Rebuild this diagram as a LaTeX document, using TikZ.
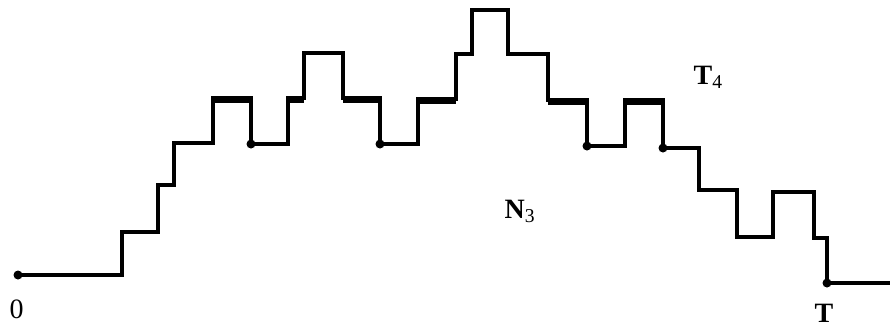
\documentclass[tikz,border=0pt]{standalone}
\usepackage{fontspec}
\setmainfont{Liberation Serif}
\tikzset{lbl/.style={inner sep=0pt,font=\fontsize{14}{16}\selectfont},
  pathdot/.style={fill=black},
  heavy/.style={line width=3.4pt}}
\begin{document}
\begin{tikzpicture}[x=0.5pt,y=-0.5pt,line width=1.6pt]
\useasboundingbox (0,0) rectangle (890,328);
% lattice path from 0 to T
\draw (18,275)--(122,275)--(122,232)--(158,232)--(158,185)--(174,185)--(174,143)--(213,143)--(213,98)--(251,98)--(251,144)
 --(288,144)--(288,98)--(304,98)--(304,53)--(343,53)--(343,98)--(380,98)--(380,144)--(418,144)--(418,99)--(456,99)
 --(456,54)--(472,54)--(472,10)--(508,10)--(508,54)--(548,54)--(548,100)--(587,100)--(587,146)--(625,146)--(625,100)
 --(663,100)--(663,148)--(699,148)--(699,190)--(737,190)--(737,237)--(773,237)--(773,192)--(814,192)--(814,238)
 --(827,238)--(827,283)--(890,283);
% heavy pieces on level four
\draw[heavy] (213,100)--(251,100) (288,100)--(304,100) (343,100)--(380,100) (418,101)--(456,101)
 (548,102)--(587,102) (625,102)--(663,102);
\foreach \p in {(18,275),(251,144),(380,144),(587,146),(663,148),(827,283)} \fill[pathdot] \p circle[radius=4.5];
\node[lbl,anchor=base west] (zero) at (8,318) {0};
\node[lbl,anchor=base] (tend) at (824,322) {\textbf{T}};
\node[lbl,anchor=base west] (tfour) at (692,84) {\textbf{T}\textsubscript{4}};
\node[lbl,anchor=base west] (nthree) at (503,218) {\textbf{N}\textsubscript{3}};
\end{tikzpicture}
\end{document}
